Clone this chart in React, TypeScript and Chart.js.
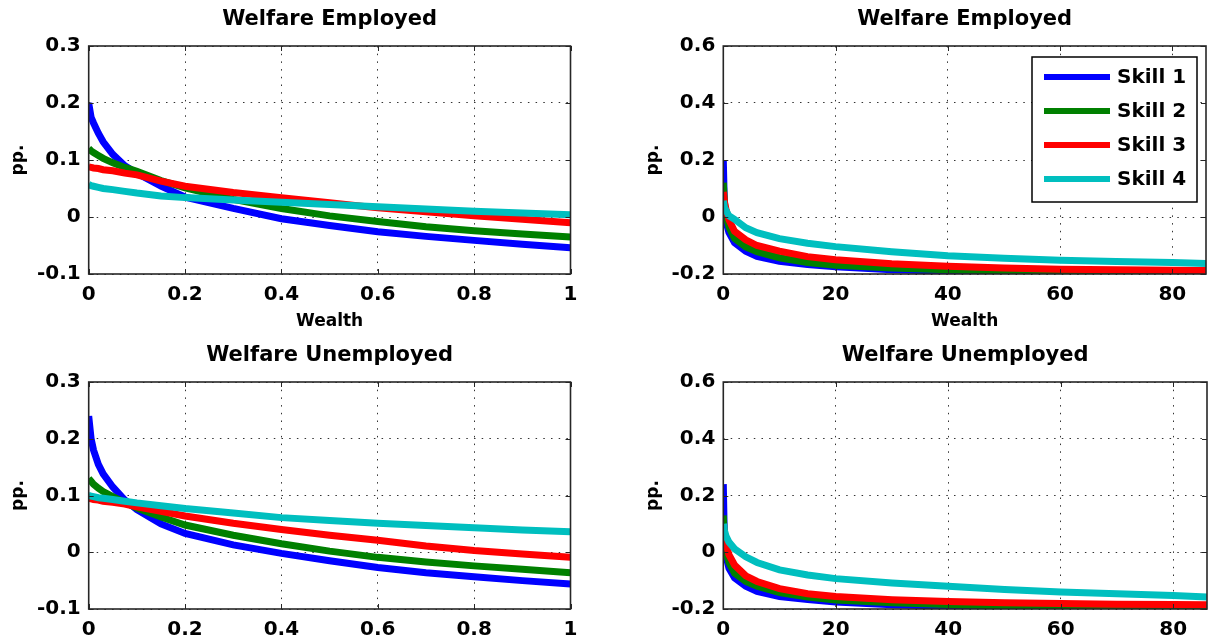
import React, { useEffect, useRef } from "react";
import { Chart, registerables } from "chart.js";

Chart.register(...registerables);

const FONT = '"DejaVu Sans", "Liberation Sans", Arial, sans-serif';

const skillLabels = ["Skill 1", "Skill 2", "Skill 3", "Skill 4"];
const skillColors = ["#0000ff", "#008000", "#ff0000", "#00bfbf"];

// Wealth grids (x values)
const wealthLow = [0, 0.005, 0.01, 0.02, 0.03, 0.05, 0.075, 0.1, 0.15, 0.2, 0.3, 0.4, 0.5, 0.6, 0.7, 0.8, 0.9, 1.0];
const wealthHigh = [0, 0.2, 0.5, 1, 2, 4, 6, 10, 15, 20, 30, 40, 50, 60, 70, 80, 86];

// Welfare Employed, wealth 0..1
const empLowSkill1 = [0.2, 0.175, 0.165, 0.147, 0.132, 0.11, 0.09, 0.077, 0.054, 0.035, 0.015, -0.003, -0.015, -0.026, -0.034, -0.041, -0.048, -0.054];
const empLowSkill2 = [0.12, 0.116, 0.113, 0.108, 0.103, 0.095, 0.087, 0.08, 0.064, 0.051, 0.031, 0.015, 0.002, -0.008, -0.017, -0.024, -0.03, -0.035];
const empLowSkill3 = [0.088, 0.087, 0.086, 0.085, 0.083, 0.081, 0.077, 0.074, 0.063, 0.054, 0.043, 0.034, 0.025, 0.016, 0.009, 0.002, -0.004, -0.01];
const empLowSkill4 = [0.057, 0.055, 0.054, 0.052, 0.05, 0.048, 0.045, 0.042, 0.037, 0.034, 0.03, 0.026, 0.022, 0.018, 0.014, 0.01, 0.007, 0.004];

// Welfare Employed, wealth 0..86
const empHighSkill1 = [0.2, 0.035, -0.017, -0.054, -0.09, -0.12, -0.138, -0.155, -0.167, -0.175, -0.185, -0.19, -0.193, -0.196, -0.198, -0.199, -0.2];
const empHighSkill2 = [0.12, 0.051, 0.002, -0.035, -0.075, -0.105, -0.122, -0.143, -0.16, -0.169, -0.179, -0.185, -0.189, -0.192, -0.195, -0.197, -0.198];
const empHighSkill3 = [0.088, 0.054, 0.025, -0.01, -0.05, -0.08, -0.1, -0.12, -0.139, -0.15, -0.164, -0.173, -0.179, -0.183, -0.185, -0.187, -0.188];
const empHighSkill4 = [0.057, 0.034, 0.022, 0.004, -0.008, -0.038, -0.055, -0.076, -0.092, -0.104, -0.122, -0.136, -0.145, -0.152, -0.156, -0.16, -0.163];

// Welfare Unemployed, wealth 0..1
const unempLowSkill1 = [0.24, 0.2, 0.18, 0.155, 0.138, 0.115, 0.092, 0.075, 0.05, 0.033, 0.013, -0.002, -0.015, -0.027, -0.036, -0.043, -0.05, -0.056];
const unempLowSkill2 = [0.13, 0.125, 0.12, 0.113, 0.107, 0.098, 0.088, 0.078, 0.062, 0.048, 0.03, 0.015, 0.002, -0.009, -0.017, -0.024, -0.03, -0.036];
const unempLowSkill3 = [0.095, 0.094, 0.093, 0.092, 0.09, 0.088, 0.085, 0.08, 0.072, 0.064, 0.051, 0.04, 0.03, 0.021, 0.011, 0.003, -0.003, -0.009];
const unempLowSkill4 = [0.1, 0.099, 0.098, 0.096, 0.095, 0.093, 0.09, 0.087, 0.082, 0.077, 0.069, 0.061, 0.056, 0.051, 0.047, 0.043, 0.039, 0.036];

// Welfare Unemployed, wealth 0..86
const unempHighSkill1 = [0.24, 0.033, -0.015, -0.056, -0.09, -0.12, -0.138, -0.156, -0.167, -0.175, -0.185, -0.19, -0.193, -0.196, -0.198, -0.199, -0.2];
const unempHighSkill2 = [0.13, 0.048, 0.002, -0.036, -0.074, -0.103, -0.12, -0.142, -0.158, -0.168, -0.178, -0.184, -0.189, -0.192, -0.195, -0.197, -0.198];
const unempHighSkill3 = [0.095, 0.064, 0.03, -0.009, -0.045, -0.083, -0.103, -0.128, -0.146, -0.156, -0.167, -0.174, -0.178, -0.181, -0.183, -0.184, -0.185];
const unempHighSkill4 = [0.1, 0.077, 0.056, 0.036, 0.012, -0.016, -0.036, -0.062, -0.08, -0.093, -0.108, -0.12, -0.131, -0.14, -0.146, -0.152, -0.158];

// Axis ticks
const lowXTicks = [0, 0.2, 0.4, 0.6, 0.8, 1];
const highXTicks = [0, 20, 40, 60, 80];
const lowYTicks = [-0.1, 0, 0.1, 0.2, 0.3];
const highYTicks = [-0.2, 0, 0.2, 0.4, 0.6];

const lowXRange = [0, 1];
const highXRange = [0, 86];
const lowYRange = [-0.1, 0.3];
const highYRange = [-0.2, 0.6];

const titleEmployed = "Welfare Employed";
const titleUnemployed = "Welfare Unemployed";
const xAxisTitle = "Wealth";
const yAxisTitle = "pp.";

const fmt = (v: number) => String(Number(v.toFixed(3)));

const decorPlugin = {
  id: "panelDecor",
  afterDraw(chart: any, _args: any, opts: any) {
    const { ctx, chartArea: a, scales } = chart;
    ctx.save();
    ctx.strokeStyle = "#262626";
    ctx.lineWidth = 1;
    const tl = 5;
    ctx.beginPath();
    scales.x.ticks.forEach((t: any) => {
      const px = Math.round(scales.x.getPixelForValue(t.value)) + 0.5;
      ctx.moveTo(px, a.bottom);
      ctx.lineTo(px, a.bottom - tl);
      ctx.moveTo(px, a.top);
      ctx.lineTo(px, a.top + tl);
    });
    scales.y.ticks.forEach((t: any) => {
      const py = Math.round(scales.y.getPixelForValue(t.value)) + 0.5;
      ctx.moveTo(a.left, py);
      ctx.lineTo(a.left + tl, py);
      ctx.moveTo(a.right, py);
      ctx.lineTo(a.right - tl, py);
    });
    ctx.stroke();
    ctx.lineWidth = 1.6;
    ctx.strokeRect(a.left, a.top, a.right - a.left, a.bottom - a.top);

    ctx.fillStyle = "#000";
    ctx.font = `bold 21px ${FONT}`;
    ctx.textAlign = "center";
    ctx.textBaseline = "alphabetic";
    ctx.fillText(opts.title, (a.left + a.right) / 2, 25);

    if (opts.legend) {
      const bw = 165;
      const bh = 145;
      const bx = a.right - 9 - bw;
      const by = a.top + 11;
      ctx.fillStyle = "#fff";
      ctx.fillRect(bx, by, bw, bh);
      ctx.strokeStyle = "#000";
      ctx.lineWidth = 1.5;
      ctx.strokeRect(bx, by, bw, bh);
      chart.data.datasets.forEach((ds: any, i: number) => {
        const y = by + 20 + 34 * i;
        ctx.strokeStyle = ds.borderColor;
        ctx.lineWidth = 6;
        ctx.lineCap = "butt";
        ctx.beginPath();
        ctx.moveTo(bx + 12, y);
        ctx.lineTo(bx + 78, y);
        ctx.stroke();
        ctx.fillStyle = "#000";
        ctx.font = `bold 20px ${FONT}`;
        ctx.textAlign = "left";
        ctx.textBaseline = "middle";
        ctx.fillText(ds.label, bx + 85, y + 1);
      });
    }
    ctx.restore();
  },
};

type PanelProps = {
  left: number;
  top: number;
  width: number;
  height: number;
  area: { left: number; right: number; top: number; bottom: number };
  yTitleX: number;
  title: string;
  xs: number[];
  series: number[][];
  xTicks: number[];
  yTicks: number[];
  xRange: number[];
  yRange: number[];
  showXTitle: boolean;
  legend: boolean;
};

function Panel(p: PanelProps) {
  const ref = useRef<HTMLCanvasElement>(null);
  useEffect(() => {
    if (!ref.current) return;
    const padLeft = p.yTitleX - 10.2;
    const chart = new Chart(ref.current, {
      type: "line",
      data: {
        datasets: p.series.map((s, i) => ({
          label: skillLabels[i],
          data: p.xs.map((x, j) => ({ x, y: s[j] })),
          borderColor: skillColors[i],
          backgroundColor: skillColors[i],
          borderWidth: 7,
          pointRadius: 0,
          tension: 0,
          fill: false,
          clip: 0,
          order: 3 - i,
          borderCapStyle: "butt",
          borderJoinStyle: "miter",
        })),
      },
      options: {
        responsive: false,
        animation: false,
        events: [],
        layout: {
          padding: {
            left: padLeft,
            top: p.area.top,
            right: p.width - p.area.right,
            bottom: 0,
          },
        },
        plugins: {
          legend: { display: false },
          tooltip: { enabled: false },
          title: { display: false },
          panelDecor: { title: p.title, legend: p.legend },
        } as any,
        scales: {
          x: {
            type: "linear",
            min: p.xRange[0],
            max: p.xRange[1],
            afterBuildTicks: (scale: any) => {
              scale.ticks = p.xTicks.map((v) => ({ value: v }));
            },
            afterFit: (scale: any) => {
              scale.height = p.height - p.area.bottom;
            },
            ticks: {
              color: "#000",
              font: { family: FONT, size: 20, weight: "bold" },
              padding: 9,
              maxRotation: 0,
              autoSkip: false,
              callback: (v: any) => fmt(Number(v)),
            },
            grid: {
              color: "#333",
              lineWidth: 1,
              drawTicks: false,
            },
            border: { display: false, dash: [1.5, 6.2] },
            title: {
              display: p.showXTitle,
              text: xAxisTitle,
              color: "#000",
              font: { family: FONT, size: 17, weight: "bold" },
              padding: { top: 0, bottom: 4 },
            },
          },
          y: {
            type: "linear",
            min: p.yRange[0],
            max: p.yRange[1],
            afterBuildTicks: (scale: any) => {
              scale.ticks = p.yTicks.map((v) => ({ value: v }));
            },
            afterFit: (scale: any) => {
              scale.width = p.area.left - padLeft;
            },
            ticks: {
              color: "#000",
              font: { family: FONT, size: 20, weight: "bold" },
              padding: 8,
              autoSkip: false,
              callback: (v: any) => fmt(Number(v)),
            },
            grid: {
              color: "#333",
              lineWidth: 1,
              drawTicks: false,
            },
            border: { display: false, dash: [1.5, 6.2] },
            title: {
              display: true,
              text: yAxisTitle,
              color: "#000",
              font: { family: FONT, size: 17, weight: "bold" },
              padding: { top: 0, bottom: 0 },
            },
          },
        },
      },
      plugins: [decorPlugin],
    } as any);
    return () => chart.destroy();
  }, []);
  return (
    <canvas
      ref={ref}
      width={p.width}
      height={p.height}
      style={{ position: "absolute", left: p.left, top: p.top, width: p.width, height: p.height, display: "block" }}
    />
  );
}

export default function App() {
  const topArea = { left: 88.7, right: 570.5, top: 46, bottom: 274 };
  const topAreaR = { left: 118.3, right: 601, top: 46, bottom: 274 };
  const botArea = { left: 88.7, right: 570.5, top: 46, bottom: 273 };
  const botAreaR = { left: 118.3, right: 602, top: 46, bottom: 273 };
  return (
    <div style={{ position: "absolute", left: 0, top: 0, width: 1210, height: 644, background: "#fff", overflow: "hidden" }}>
      <Panel
        left={0} top={0} width={605} height={336} area={topArea} yTitleX={19}
        title={titleEmployed} xs={wealthLow}
        series={[empLowSkill1, empLowSkill2, empLowSkill3, empLowSkill4]}
        xTicks={lowXTicks} yTicks={lowYTicks} xRange={lowXRange} yRange={lowYRange}
        showXTitle={true} legend={false}
      />
      <Panel
        left={605} top={0} width={605} height={336} area={topAreaR} yTitleX={48.5}
        title={titleEmployed} xs={wealthHigh}
        series={[empHighSkill1, empHighSkill2, empHighSkill3, empHighSkill4]}
        xTicks={highXTicks} yTicks={highYTicks} xRange={highXRange} yRange={highYRange}
        showXTitle={true} legend={true}
      />
      <Panel
        left={0} top={336} width={605} height={308} area={botArea} yTitleX={19}
        title={titleUnemployed} xs={wealthLow}
        series={[unempLowSkill1, unempLowSkill2, unempLowSkill3, unempLowSkill4]}
        xTicks={lowXTicks} yTicks={lowYTicks} xRange={lowXRange} yRange={lowYRange}
        showXTitle={false} legend={false}
      />
      <Panel
        left={605} top={336} width={605} height={308} area={botAreaR} yTitleX={48.5}
        title={titleUnemployed} xs={wealthHigh}
        series={[unempHighSkill1, unempHighSkill2, unempHighSkill3, unempHighSkill4]}
        xTicks={highXTicks} yTicks={highYTicks} xRange={highXRange} yRange={highYRange}
        showXTitle={false} legend={false}
      />
    </div>
  );
}
